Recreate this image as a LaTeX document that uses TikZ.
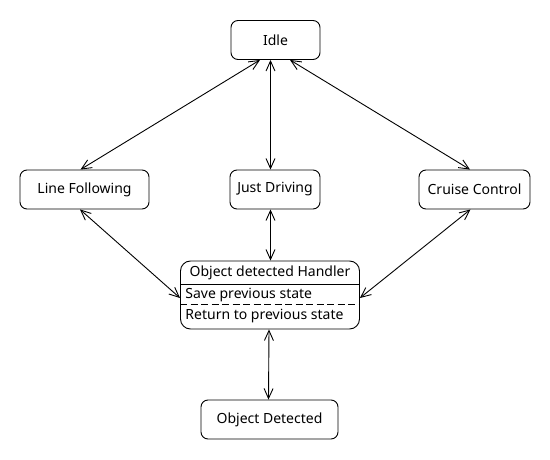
\documentclass[tikz,border=0pt]{standalone}
\usepackage{fontspec}
\setmainfont{Noto Sans}
\usetikzlibrary{arrows.meta}

\begin{document}
\begin{tikzpicture}[x=1pt,y=-1pt,line width=0.9pt,
  font=\fontsize{14}{16}\selectfont,
  state/.style={draw,rounded corners=7pt,minimum height=39pt,inner sep=0pt},
  trans/.style={{Straight Barb[length=10pt,width=9pt]}-{Straight Barb[length=10pt,width=9pt]}}]
\useasboundingbox (0,0) rectangle (550,460);
% states
\node[state,minimum width=89pt] (idle) at (275.5,40) {Idle};
\node[state,minimum width=129pt] (linefollow) at (84.5,189.5) {Line Following};
\node[state,minimum width=90pt] (justdrive) at (275,189.5) {Just Driving};
\node[state,minimum width=111pt] (cruise) at (474.5,189.5) {Cruise Control};
\node[state,minimum width=137pt] (objdet) at (269.5,419.5) {Object Detected};
% composite state with its actions
\node[draw,rounded corners=10pt,minimum width=179pt,minimum height=68pt] (handler) at (270,295) {};
\node (htitle) at (270,273) {Object detected Handler};
\node[anchor=west,inner sep=0pt] (hsave) at (185,295) {Save previous state};
\node[anchor=west,inner sep=0pt] (hreturn) at (185,316) {Return to previous state};
\draw ([yshift=-23.5pt]handler.north west) -- ([yshift=-23.5pt]handler.north east);
\draw[dash pattern=on 7pt off 3.5pt] ([yshift=-44pt]handler.north west) -- ([yshift=-44pt]handler.north east);
% transitions
\draw[trans] ([xshift=-15.5pt]idle.south) -- ([xshift=-4pt]linefollow.north);
\draw[trans] ([xshift=-5pt]idle.south) -- ([xshift=-4.5pt]justdrive.north);
\draw[trans] ([xshift=14.5pt]idle.south) -- ([xshift=-4.5pt]cruise.north);
\draw[trans] ([xshift=-4.5pt]linefollow.south) -- ([yshift=-3pt]handler.west);
\draw[trans] ([xshift=-4.5pt]justdrive.south) -- ([xshift=0.5pt]handler.north);
\draw[trans] ([xshift=-4pt]cruise.south) -- ([yshift=-3pt]handler.east);
\draw[trans] ([xshift=-1pt]handler.south) -- ([xshift=-1pt]objdet.north);
\end{tikzpicture}
\end{document}
